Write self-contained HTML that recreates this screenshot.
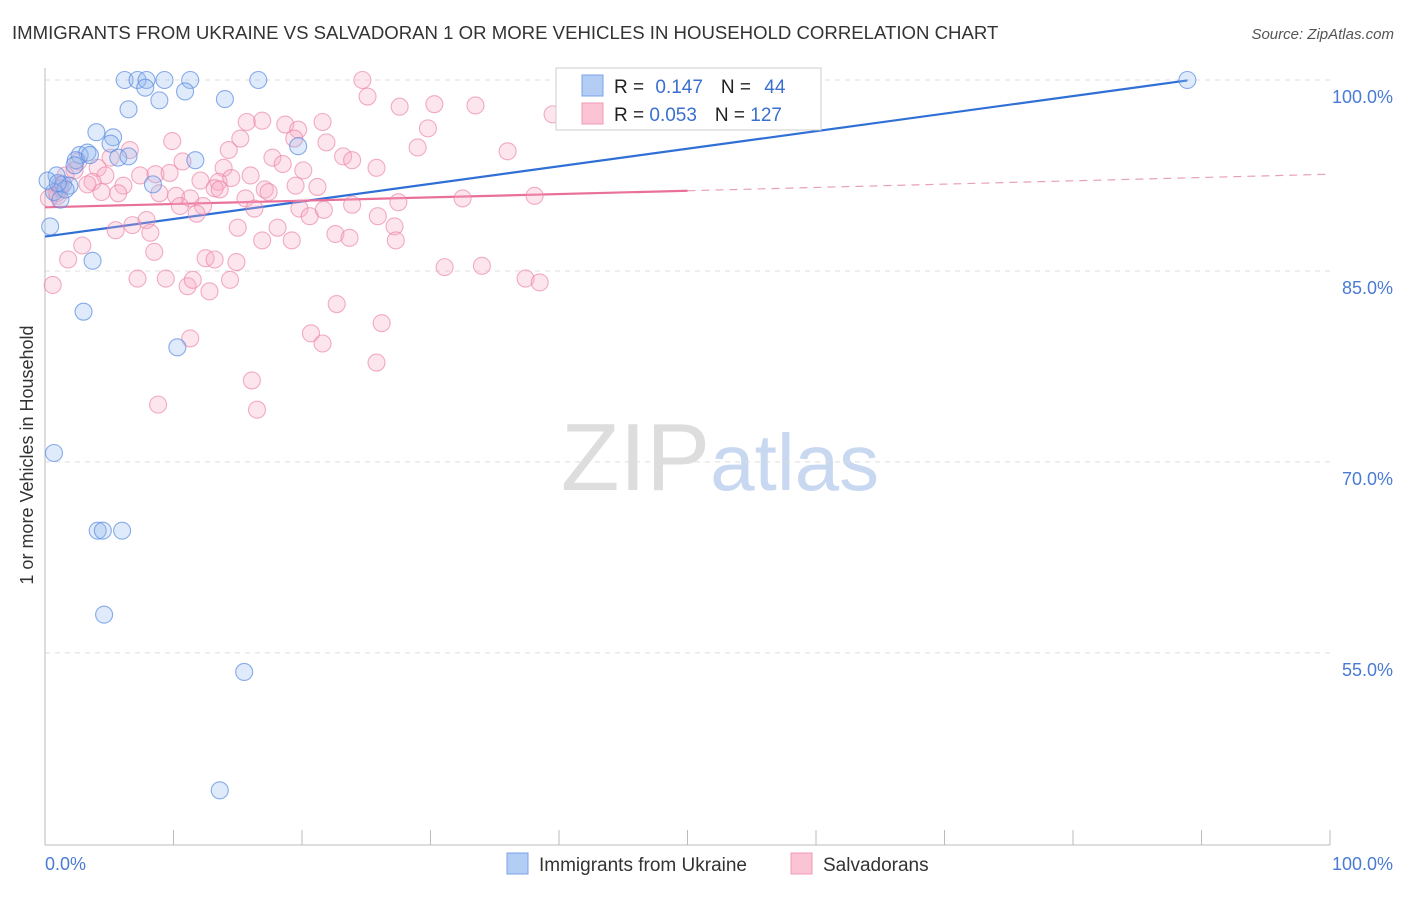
<!DOCTYPE html>
<html><head><meta charset="utf-8"><style>
body{margin:0;background:#fff;font-family:"Liberation Sans",sans-serif;}
svg text{font-family:"Liberation Sans",sans-serif;}
</style></head><body>
<svg id="chart" width="1406" height="892" xmlns="http://www.w3.org/2000/svg">
<text x="12" y="39" font-size="18.6" fill="#333">IMMIGRANTS FROM UKRAINE VS SALVADORAN 1 OR MORE VEHICLES IN HOUSEHOLD CORRELATION CHART</text>
<text x="1394" y="39" font-size="15" fill="#555" text-anchor="end" font-style="italic">Source: ZipAtlas.com</text>
<text x="720" y="490" font-size="96" text-anchor="middle" fill="#ddd" font-family="Liberation Serif">ZIP<tspan fill="#c8d8f0" font-family="Liberation Sans" font-size="80">atlas</tspan></text>
<text transform="translate(33,455) rotate(-90)" font-size="18" fill="#333" text-anchor="middle">1 or more Vehicles in Household</text>
<g id="grid"></g><g id="axes"></g><g id="lines"></g><g id="pts"></g>
<g>
<rect x="556" y="68" width="265" height="62" fill="#fff" stroke="#ccc"/>
<rect x="582" y="75" width="21" height="21" fill="#b4cdf5" stroke="#7aa3e8"/>
<rect x="582" y="103" width="21" height="21" fill="#fbc4d4" stroke="#f09ab4"/>
<text x="614" y="93" font-size="19" fill="#222">R = <tspan fill="#3a6fd0" dx="6">0.147</tspan><tspan dx="18" fill="#222">N = </tspan><tspan fill="#3a6fd0" dx="8">44</tspan></text>
<text x="614" y="121" font-size="19" fill="#222">R = <tspan fill="#3a6fd0">0.053</tspan><tspan dx="18" fill="#222">N = </tspan><tspan fill="#3a6fd0">127</tspan></text>
</g>
<g>
<rect x="507" y="853" width="21" height="21" fill="#b4cdf5" stroke="#7aa3e8"/>
<text x="539" y="871" font-size="19" fill="#333">Immigrants from Ukraine</text>
<rect x="791" y="853" width="21" height="21" fill="#fbc4d4" stroke="#f09ab4"/>
<text x="823" y="871" font-size="19" fill="#333">Salvadorans</text>
</g>
</svg>
<script>
const blueX=[6.2,7.2,7.9,9.3,11.3,16.6,7.8,10.9,88.9,6.5,8.9,14.0,4.0,5.3,5.1,2.7,3.3,2.4,5.7,6.5,11.7,19.7,0.9,1.4,1.9,0.7,1.2,8.4,0.4,3.7,3.0,10.3,0.7,4.1,4.5,6.0,4.6,15.5,13.6,0.2,1.6,1.0,2.3,3.5];
const blueY=[100,100,100,100,100,100,99.4,99.1,100,97.7,98.4,98.5,95.9,95.5,95.0,94.1,94.3,93.7,93.9,94.0,93.7,94.8,92.5,91.8,91.7,91.2,90.6,91.8,88.5,85.8,81.8,79.0,70.7,64.6,64.6,64.6,58.0,53.5,44.2,92.1,91.4,91.9,93.3,94.1];
const pinkX=[24.7,25.1,30.3,33.5,27.6,39.5,16.9,21.6,29.8,15.7,18.7,19.7,15.2,9.9,21.9,19.4,14.3,29.0,36.0,23.2,23.9,25.8,17.7,18.5,20.1,6.6,5.1,10.7,13.9,2.6,4.1,4.7,7.4,8.6,9.7,12.1,13.5,14.5,16.0,17.1,17.4,19.5,21.2,3.7,6.1,3.3,1.2,0.9,4.4,5.7,8.9,10.2,11.3,13.2,13.6,15.6,16.3,19.8,20.6,21.7,23.9,27.5,32.5,38.1,10.5,12.3,11.8,7.9,6.8,5.5,8.2,15.0,16.9,18.1,19.2,22.6,23.7,25.9,27.2,27.3,2.9,1.8,8.5,12.5,13.2,14.9,31.1,34.0,37.4,38.5,7.2,9.4,11.1,11.5,12.8,14.4,0.6,22.7,26.2,20.7,21.6,11.3,25.8,16.1,8.8,16.5,1.2,2.3,1.6,1.0,0.3,50.0];
const pinkY=[100,98.7,98.1,98.0,97.9,97.3,96.8,96.7,96.2,96.7,96.5,96.1,95.4,95.2,95.1,95.4,94.5,94.7,94.4,94.0,93.7,93.1,93.9,93.4,92.9,94.5,93.9,93.6,93.1,93.6,93.1,92.5,92.5,92.6,92.7,92.1,92.0,92.3,92.5,91.4,91.2,91.7,91.6,92.0,91.7,91.8,91.8,91.1,91.2,91.1,91.1,90.9,90.7,91.5,91.4,90.7,89.9,89.9,89.3,89.8,90.2,90.4,90.7,90.9,90.1,90.1,89.5,89.0,88.6,88.2,88.0,88.4,87.4,88.4,87.4,87.9,87.6,89.3,88.5,87.4,87.0,85.9,86.5,86.0,85.9,85.7,85.3,85.4,84.4,84.1,84.4,84.4,83.8,84.3,83.4,84.3,83.9,82.4,80.9,80.1,79.3,79.7,77.8,76.4,74.5,74.1,91.5,92.9,92.5,90.9,90.7,100];
const yTicks=[100,85,70,55];
const yTickLabels=["100.0%","85.0%","70.0%","55.0%"];
const blueFit=[87.7,101.5];
const pinkFit=[90.0,92.6];
const NS="http://www.w3.org/2000/svg";
const sx=v=>45+v*12.85, sy=v=>80+(100-v)*12.73;
function mk(tag,attrs,parent){const e=document.createElementNS(NS,tag);for(const k in attrs)e.setAttribute(k,attrs[k]);document.getElementById(parent).appendChild(e);return e;}
yTicks.forEach((t,i)=>{
 const g=mk('line',{x1:45,x2:1330,y1:sy(t),y2:sy(t),stroke:'#ddd','stroke-dasharray':'5,5'},'grid');
 
 
 const tx=mk('text',{x:1393,y:sy(t)+23,'font-size':18,fill:'#4a7bd4','text-anchor':'end'},'grid');
 tx.textContent=yTickLabels[i];
 
 
});
const ya=mk('line',{x1:45,x2:45,y1:68,y2:845,stroke:'#bbb'},'axes');


const xa=mk('line',{x1:45,x2:1330,y1:845,y2:845,stroke:'#bbb'},'axes');


for(let i=0;i<=10;i++){const t=mk('line',{x1:sx(i*10),x2:sx(i*10),y1:830,y2:845,stroke:'#bbb'},'axes');
 
 }
[[0,"0.0%","start",45],[100,"100.0%","end",1393]].forEach(a=>{const t=mk('text',{x:a[3],y:870,'font-size':18,fill:'#4a7bd4','text-anchor':a[2]},'axes');t.textContent=a[1];
 
 });
function pts(xs,ys,fill,stroke,name){xs.forEach((x,i)=>{const c=mk('circle',{cx:sx(x),cy:sy(ys[i]),r:8.5,fill:fill,stroke:stroke,'stroke-width':1.1},'pts');
 
 });}
pts(pinkX,pinkY,'rgba(248,170,195,0.3)','rgba(235,130,165,0.65)','salvadoran-point');
pts(blueX,blueY,'rgba(150,185,240,0.3)','rgba(90,140,225,0.7)','ukraine-point');
const bl=mk('line',{x1:sx(0),y1:sy(blueFit[0]),x2:sx(88.9),y2:sy(blueFit[0]+(blueFit[1]-blueFit[0])*0.889),stroke:'#2f6fd6','stroke-width':2.2},'lines');


const pl=mk('line',{x1:sx(0),y1:sy(pinkFit[0]),x2:sx(50),y2:sy((pinkFit[0]+pinkFit[1])/2),stroke:'#e8709a','stroke-width':2.2},'lines');


const pd=mk('line',{x1:sx(50),y1:sy((pinkFit[0]+pinkFit[1])/2),x2:sx(100),y2:sy(pinkFit[1]),stroke:'#e8a0b8','stroke-width':1.2,'stroke-dasharray':'8,6'},'lines');


</script>
</body></html>
